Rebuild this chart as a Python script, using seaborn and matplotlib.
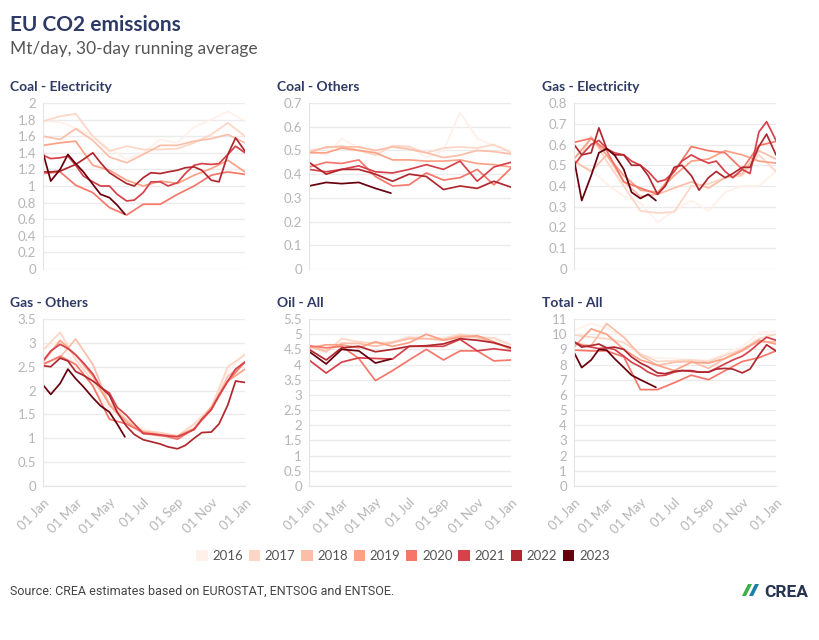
import numpy as np
import pandas as pd
import matplotlib
matplotlib.use("Agg")
import matplotlib.pyplot as plt
import matplotlib.dates as mdates
from matplotlib.patches import Patch, Polygon
from matplotlib.ticker import MultipleLocator, FuncFormatter
import seaborn as sns

# ---------------------------------------------------------
# DATA (Mt/day)
# ---------------------------------------------------------
YEARS = [2016, 2017, 2018, 2019, 2020, 2021, 2022, 2023]
YEAR_COLORS = ['#fff0ea', '#fdd6c5', '#fcbea8', '#fca185', '#f5776a',
               '#d6414a', '#b0282f', '#67000d']

coal_elec = {
    2016: [1.78, 1.77, 1.70, 1.60, 1.45, 1.32, 1.40, 1.56, 1.52, 1.71, 1.80, 1.90, 1.78],
    2017: [1.78, 1.84, 1.87, 1.60, 1.42, 1.48, 1.44, 1.44, 1.45, 1.52, 1.62, 1.76, 1.60],
    2018: [1.60, 1.56, 1.69, 1.55, 1.35, 1.28, 1.38, 1.49, 1.49, 1.54, 1.57, 1.62, 1.52],
    2019: [1.49, 1.52, 1.54, 1.25, 1.19, 1.07, 1.00, 1.06, 1.03, 1.13, 1.21, 1.31, 1.17],
    2020: [1.15, 1.17, 1.01, 0.92, 0.74, 0.65, 0.78, 0.78, 0.90, 1.00, 1.13, 1.17, 1.14],
    2021: [1.37, 1.33, 1.34, 1.36, 1.25, 1.12, 1.05, 1.00, 1.00, 0.90, 0.82, 0.83, 0.92,
           1.05, 1.05, 1.00, 1.04, 1.15, 1.25, 1.27, 1.26, 1.27, 1.38, 1.48, 1.40],
    2022: [1.17, 1.17, 1.18, 1.22, 1.26, 1.32, 1.40, 1.28, 1.16, 1.10, 1.03, 1.00, 1.10,
           1.16, 1.15, 1.17, 1.19, 1.22, 1.23, 1.19, 1.07, 1.05, 1.38, 1.58, 1.42],
    2023: [1.40, 1.06, 1.20, 1.38, 1.27, 1.17, 1.02, 0.90, 0.86, 0.77, 0.66],
}

coal_other = {
    2016: [0.50, 0.48, 0.55, 0.51, 0.49, 0.52, 0.52, 0.47, 0.50, 0.66, 0.55, 0.52, 0.50],
    2017: [0.50, 0.51, 0.52, 0.50, 0.48, 0.52, 0.515, 0.49, 0.51, 0.515, 0.51, 0.525, 0.49],
    2018: [0.49, 0.515, 0.515, 0.515, 0.50, 0.515, 0.505, 0.49, 0.47, 0.48, 0.50, 0.495, 0.485],
    2019: [0.49, 0.49, 0.51, 0.50, 0.49, 0.46, 0.46, 0.455, 0.455, 0.46, 0.445, 0.44, 0.43],
    2020: [0.43, 0.45, 0.445, 0.46, 0.39, 0.35, 0.355, 0.405, 0.375, 0.385, 0.42, 0.355, 0.425],
    2021: [0.42, 0.41, 0.42, 0.435, 0.41, 0.405, 0.42, 0.44, 0.42, 0.455, 0.37, 0.43, 0.45],
    2022: [0.45, 0.40, 0.42, 0.42, 0.40, 0.37, 0.40, 0.39, 0.335, 0.35, 0.34, 0.37, 0.345],
    2023: [0.35, 0.365, 0.36, 0.365, 0.34, 0.32],
}

gas_elec = {
    2016: [0.51, 0.48, 0.41, 0.35, 0.32, 0.225, 0.28, 0.33, 0.28, 0.37, 0.40, 0.40, 0.47],
    2017: [0.48, 0.64, 0.52, 0.40, 0.28, 0.27, 0.275, 0.40, 0.41, 0.44, 0.45, 0.55, 0.47],
    2018: [0.52, 0.47, 0.55, 0.42, 0.35, 0.36, 0.39, 0.42, 0.39, 0.44, 0.46, 0.57, 0.53],
    2019: [0.53, 0.63, 0.55, 0.45, 0.38, 0.37, 0.45, 0.52, 0.53, 0.57, 0.55, 0.52, 0.51],
    2020: [0.61, 0.63, 0.57, 0.42, 0.39, 0.36, 0.47, 0.59, 0.57, 0.56, 0.48, 0.595, 0.615],
    2021: [0.50, 0.55, 0.60, 0.62, 0.58, 0.56, 0.55, 0.52, 0.50, 0.47, 0.42, 0.43, 0.47,
           0.52, 0.55, 0.53, 0.51, 0.52, 0.47, 0.44, 0.48, 0.46, 0.66, 0.71, 0.62],
    2022: [0.60, 0.55, 0.56, 0.68, 0.58, 0.55, 0.55, 0.50, 0.50, 0.45, 0.36, 0.40, 0.49,
           0.50, 0.45, 0.38, 0.44, 0.47, 0.44, 0.46, 0.49, 0.49, 0.59, 0.65, 0.55],
    2023: [0.53, 0.33, 0.45, 0.56, 0.58, 0.55, 0.48, 0.37, 0.34, 0.36, 0.33],
}

gas_other = {
    2016: [2.85, 3.05, 2.50, 2.10, 1.60, 1.35, 1.20, 1.10, 1.05, 1.25, 1.60, 2.40, 2.80],
    2017: [2.85, 3.22, 2.65, 2.20, 1.75, 1.40, 1.15, 1.12, 1.05, 1.30, 1.65, 2.50, 2.75],
    2018: [2.55, 2.70, 3.08, 2.55, 1.70, 1.30, 1.15, 1.08, 1.05, 1.20, 1.60, 2.30, 2.60],
    2019: [2.60, 3.05, 2.75, 2.30, 1.70, 1.35, 1.10, 1.05, 1.05, 1.20, 1.65, 2.20, 2.45],
    2020: [2.55, 2.72, 2.55, 2.10, 1.40, 1.30, 1.12, 1.07, 0.98, 1.20, 1.60, 2.20, 2.60],
    2021: [2.62, 2.83, 2.97, 2.88, 2.75, 2.58, 2.35, 2.07, 1.95, 1.65, 1.48, 1.30, 1.10,
           1.09, 1.07, 1.05, 1.03, 1.10, 1.18, 1.40, 1.60, 1.90, 2.20, 2.45, 2.60],
    2022: [2.52, 2.50, 2.68, 2.62, 2.40, 2.32, 2.20, 2.08, 1.90, 1.55, 1.25, 1.08, 0.97,
           0.93, 0.88, 0.82, 0.78, 0.85, 1.00, 1.12, 1.13, 1.30, 1.70, 2.20, 2.17],
    2023: [2.12, 1.92, 2.15, 2.45, 2.25, 2.08, 1.85, 1.68, 1.55, 1.30, 1.03],
}

oil_all = {
    2016: [4.55, 4.50, 4.60, 4.65, 4.60, 4.70, 4.95, 4.90, 4.90, 4.95, 4.85, 4.85, 4.60],
    2017: [4.60, 4.40, 4.85, 4.75, 4.70, 4.75, 4.90, 4.85, 4.85, 5.00, 4.90, 4.88, 4.65],
    2018: [4.60, 4.45, 4.70, 4.70, 4.60, 4.72, 4.85, 4.85, 4.80, 4.95, 4.90, 4.70, 4.55],
    2019: [4.55, 4.65, 4.65, 4.55, 4.75, 4.60, 4.72, 5.00, 4.80, 4.90, 4.95, 4.75, 4.50],
    2020: [4.62, 4.55, 4.60, 4.20, 3.47, 3.80, 4.15, 4.50, 4.15, 4.45, 4.45, 4.12, 4.15],
    2021: [4.15, 3.72, 4.08, 4.22, 4.20, 4.18, 4.60, 4.60, 4.60, 4.83, 4.45, 4.52, 4.45],
    2022: [4.50, 4.15, 4.55, 4.60, 4.42, 4.50, 4.60, 4.62, 4.68, 4.85, 4.80, 4.72, 4.55],
    2023: [4.43, 4.02, 4.50, 4.45, 4.05, 4.18],
}

total_all = {
    2016: [10.25, 10.7, 10.4, 9.8, 8.6, 8.45, 8.4, 8.3, 8.3, 8.7, 9.2, 10.1, 10.2],
    2017: [9.95, 9.8, 9.7, 9.45, 8.7, 8.2, 8.25, 8.3, 8.2, 8.6, 9.0, 9.7, 10.0],
    2018: [9.4, 9.25, 10.7, 9.8, 8.6, 7.95, 8.15, 8.2, 7.75, 8.4, 9.0, 9.5, 9.5],
    2019: [9.15, 10.35, 10.0, 9.0, 8.3, 7.95, 7.6, 8.15, 8.1, 8.4, 8.9, 9.6, 9.35],
    2020: [8.95, 8.9, 8.9, 8.5, 6.35, 6.35, 6.8, 7.3, 7.0, 7.6, 8.2, 8.45, 8.9],
    2021: [9.5, 9.25, 9.15, 9.05, 9.1, 9.0, 8.55, 8.15, 7.85, 7.5, 7.25, 7.3, 7.5,
           7.6, 7.55, 7.5, 7.5, 7.75, 8.05, 8.3, 8.55, 8.9, 9.4, 9.8, 9.6],
    2022: [9.5, 9.15, 9.25, 9.35, 9.1, 9.15, 9.0, 8.5, 8.1, 7.85, 7.45, 7.4, 7.55,
           7.6, 7.6, 7.5, 7.5, 7.7, 7.75, 7.7, 7.45, 7.7, 8.6, 9.3, 8.9],
    2023: [8.8, 7.8, 8.3, 9.0, 8.95, 8.4, 7.8, 7.3, 7.0, 6.75, 6.5],
}

PANELS = [
    ('Coal - Electricity', coal_elec, 2.0, 0.2),
    ('Coal - Others', coal_other, 0.7, 0.1),
    ('Gas - Electricity', gas_elec, 0.8, 0.1),
    ('Gas - Others', gas_other, 3.5, 0.5),
    ('Oil - All', oil_all, 5.5, 0.5),
    ('Total - All', total_all, 11.0, 1.0),
]

TITLE = 'EU CO2 emissions'
SUBTITLE = 'Mt/day, 30-day running average'
SOURCE = 'Source: CREA estimates based on EUROSTAT, ENTSOG and ENTSOE.'

# date grids on a dummy year (values are plotted by day of year)
MONTH_STARTS = [f'2001-{m:02d}-01' for m in range(1, 13)] + ['2002-01-01']
HALF_MONTHS = [d for m in range(1, 13) for d in (f'2001-{m:02d}-01', f'2001-{m:02d}-15')] + ['2002-01-01']
DATE_GRIDS = {
    13: MONTH_STARTS,
    25: HALF_MONTHS,
    6: MONTH_STARTS[:5] + ['2001-05-29'],
    11: HALF_MONTHS[:10] + ['2001-05-29'],
}


def to_long(panel_data):
    rows = []
    for yr, vals in panel_data.items():
        dates = pd.to_datetime(DATE_GRIDS[len(vals)])
        rows.append(pd.DataFrame({'date': dates, 'value': vals, 'year': yr}))
    return pd.concat(rows, ignore_index=True)


# ---------------------------------------------------------
# STYLE
# ---------------------------------------------------------
sns.set_style("white")
plt.rcParams['font.family'] = ['Lato', 'DejaVu Sans']
NAVY = '#2e3a66'
TICK_GREY = '#b5b5b5'
GRID_GREY = '#ebebeb'

fig = plt.figure(figsize=(8.2, 6.4), dpi=100)

lefts = [43 / 820, 309 / 820, 574 / 820]
title_x = [10 / 820, 277 / 820, 542 / 820]
width = 202 / 820
rows_y = [(1 - 269 / 640, 166 / 640, 1 - 91 / 640),
          (1 - 486 / 640, 167 / 640, 1 - 307 / 640)]

palette = dict(zip(YEARS, YEAR_COLORS))
x0, x1 = pd.Timestamp('2001-01-01'), pd.Timestamp('2002-01-01')

for i, (name, pdata, ymax, ystep) in enumerate(PANELS):
    r, c = divmod(i, 3)
    bottom, height, ty = rows_y[r]
    ax = fig.add_axes([lefts[c], bottom, width, height])
    df = to_long(pdata)
    sns.lineplot(data=df, x='date', y='value', hue='year', hue_order=YEARS,
                 palette=palette, estimator=None, sort=False, linewidth=1.25,
                 legend=False, ax=ax)

    ax.set_xlim(x0, x1)
    ax.set_ylim(0, ymax)
    ax.yaxis.set_major_locator(MultipleLocator(ystep))
    ax.yaxis.set_major_formatter(FuncFormatter(lambda v, p: f'{round(v, 2):g}'))
    ax.grid(axis='y', color=GRID_GREY, linewidth=1)
    ax.grid(axis='x', visible=False)
    ax.set_axisbelow(True)
    ax.set_xlabel('')
    ax.set_ylabel('')
    for s in ['top', 'right', 'bottom']:
        ax.spines[s].set_visible(False)
    ax.spines['left'].set_color('#e3e3e3')
    ax.tick_params(axis='y', colors=TICK_GREY, labelsize=9.5, length=3,
                   pad=2, color='#e3e3e3')

    if r == 1:
        ax.spines['bottom'].set_visible(True)
        ax.spines['bottom'].set_color('#e3e3e3')
        ax.xaxis.set_major_locator(mdates.MonthLocator(bymonth=[1, 3, 5, 7, 9, 11]))
        ax.xaxis.set_minor_locator(mdates.MonthLocator())
        ax.xaxis.set_major_formatter(mdates.DateFormatter('%d %b'))
        ax.tick_params(axis='x', which='both', colors=TICK_GREY, color='#e3e3e3',
                       length=4, labelsize=9.5)
        for lab in ax.get_xticklabels():
            lab.set_rotation(45)
            lab.set_ha('right')
            lab.set_rotation_mode('anchor')
    else:
        ax.set_xticks([])

    fig.text(title_x[c], ty, name, fontsize=10, fontweight='bold', color=NAVY,
             va='baseline', ha='left')

fig.text(10 / 820, 1 - 31 / 640, TITLE, fontsize=15, fontweight='bold',
         color=NAVY, va='baseline')
fig.text(10 / 820, 1 - 54 / 640, SUBTITLE, fontsize=12.5, color='#555555',
         va='baseline')

handles = [Patch(facecolor=col, edgecolor='none', label=str(yr))
           for yr, col in zip(YEARS, YEAR_COLORS)]
fig.legend(handles=handles, loc='center', bbox_to_anchor=(403 / 820, 1 - 556 / 640),
           ncol=8, frameon=False, fontsize=9.5, handlelength=0.85, handleheight=0.85,
           handletextpad=0.35, columnspacing=0.45, labelcolor='#555555')

fig.text(10 / 820, 1 - 595 / 640, SOURCE, fontsize=9, color='#444444',
         family=['Roboto', 'DejaVu Sans'], va='baseline')

# CREA logo (text + small mark)
fig.text(808 / 820, 1 - 597 / 640, 'CREA', fontsize=12.5, fontweight='bold',
         color='#27344f', ha='right', va='baseline',
         family=['Roboto', 'DejaVu Sans'])
mark = [([742, 596], [748, 584], [752, 584], [746, 596], '#3fae49'),
        ([749, 596], [755, 584], [759, 584], [753, 596], '#1b7fa6')]
for a, b, cc, d, col in mark:
    pts = [(p[0] / 820, 1 - p[1] / 640) for p in (a, b, cc, d)]
    fig.patches.append(Polygon(pts, closed=True, transform=fig.transFigure,
                               facecolor=col, edgecolor='none'))

fig.savefig('out.png', dpi=100, facecolor='white')
